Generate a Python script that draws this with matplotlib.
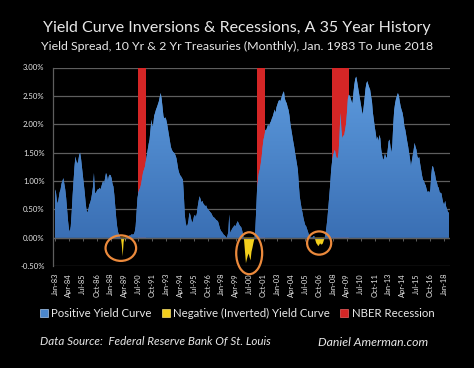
import numpy as np
import matplotlib
matplotlib.use("Agg")
import matplotlib.pyplot as plt
from matplotlib.patches import Ellipse, Patch
from matplotlib.colors import LinearSegmentedColormap
from matplotlib.path import Path

# ---------------- data ----------------
# 10Y - 2Y Treasury spread (%), monthly, Jan 1983 .. Jun 2018
spread = [
    0.85, 0.80, 0.65, 0.60, 0.70, 0.80, 0.85, 0.95, 1.00, 1.05, 0.95, 0.85,   # 1983
    0.70, 0.50, 0.30, 0.15, 0.10, 0.20, 0.45, 0.75, 1.00, 1.25, 1.43, 1.35,   # 1984
    1.30, 1.35, 1.45, 1.50, 1.40, 1.25, 1.10, 0.95, 0.80, 0.62, 0.48, 0.44,   # 1985
    0.50, 0.58, 0.62, 0.68, 0.78, 0.90, 1.14, 0.80, 0.78, 0.82, 0.85, 0.85,   # 1986
    0.88, 0.85, 0.90, 0.96, 1.00, 0.95, 1.05, 1.14, 1.10, 1.00, 1.08, 1.11,   # 1987
    1.10, 1.05, 0.95, 0.90, 0.75, 0.55, 0.35, 0.20, 0.10, 0.05, 0.02, 0.00,   # 1988
    -0.12, -0.33, -0.08, 0.01, -0.06, 0.02, 0.03, 0.02, 0.04, 0.03, 0.05, 0.06,  # 1989
    0.05, 0.06, 0.10, 0.20, 0.45, 0.70, 0.80, 0.85, 0.88, 0.95, 1.05, 1.15,   # 1990
    1.20, 1.25, 1.35, 1.45, 1.55, 1.65, 1.73, 1.90, 2.08, 1.96, 2.00, 2.15,   # 1991
    2.20, 2.26, 2.30, 2.35, 2.40, 2.48, 2.55, 2.45, 2.30, 2.14, 2.10, 2.12,   # 1992
    2.08, 2.00, 1.90, 1.80, 1.70, 1.60, 1.55, 1.52, 1.50, 1.49, 1.45, 1.40,   # 1993
    1.30, 1.20, 1.14, 1.10, 1.08, 1.05, 1.02, 0.75, 0.40, 0.26, 0.20, 0.22,   # 1994
    0.30, 0.44, 0.40, 0.32, 0.26, 0.30, 0.38, 0.40, 0.36, 0.42, 0.55, 0.65,   # 1995
    0.73, 0.68, 0.62, 0.65, 0.60, 0.58, 0.55, 0.57, 0.52, 0.50, 0.48, 0.46,   # 1996
    0.44, 0.42, 0.38, 0.36, 0.35, 0.33, 0.31, 0.30, 0.28, 0.22, 0.16, 0.12,   # 1997
    0.10, 0.08, 0.05, 0.04, 0.02, 0.00, 0.03, 0.10, 0.41, 0.08, 0.12, 0.15,   # 1998
    0.18, 0.20, 0.22, 0.20, 0.25, 0.29, 0.26, 0.22, 0.20, 0.18, 0.12, 0.04,   # 1999
    -0.05, -0.25, -0.45, -0.38, -0.32, -0.28, -0.35, -0.40, -0.25, -0.18, -0.10, -0.03,  # 2000
    0.10, 0.45, 0.85, 1.02, 1.14, 1.20, 1.30, 1.43, 1.60, 1.73, 1.80, 1.90,   # 2001
    1.90, 1.95, 2.00, 1.95, 2.02, 2.05, 2.10, 2.14, 2.20, 2.26, 2.20, 2.30,   # 2002
    2.35, 2.40, 2.43, 2.40, 2.45, 2.50, 2.55, 2.58, 2.45, 2.40, 2.37, 2.30,   # 2003
    2.25, 2.15, 2.00, 1.90, 1.80, 1.70, 1.61, 1.50, 1.40, 1.30, 1.20, 0.95,   # 2004
    0.73, 0.62, 0.52, 0.44, 0.35, 0.28, 0.22, 0.20, 0.15, 0.10, 0.05, 0.00,   # 2005
    0.02, 0.00, 0.01, 0.03, 0.02, -0.05, -0.10, -0.12, -0.15, -0.13, -0.10, -0.12,  # 2006
    -0.12, -0.10, -0.05, 0.00, 0.08, 0.20, 0.35, 0.55, 0.75, 0.95, 1.20, 1.35,  # 2007
    1.45, 1.50, 1.55, 1.45, 1.40, 1.40, 1.50, 1.80, 2.20, 1.90, 1.75, 1.80,   # 2008
    1.80, 1.90, 2.00, 2.20, 2.45, 2.52, 2.50, 2.46, 2.40, 2.37, 2.55, 2.70,   # 2009
    2.80, 2.84, 2.75, 2.65, 2.55, 2.45, 2.35, 2.25, 2.17, 2.30, 2.45, 2.62,   # 2010
    2.72, 2.76, 2.70, 2.65, 2.61, 2.50, 2.40, 2.20, 2.08, 1.95, 1.85, 1.73,   # 2011
    1.78, 1.70, 1.81, 1.75, 1.55, 1.45, 1.37, 1.40, 1.48, 1.43, 1.40, 1.55,   # 2012
    1.70, 1.73, 1.60, 1.50, 1.65, 2.00, 2.25, 2.37, 2.45, 2.50, 2.55, 2.50,   # 2013
    2.40, 2.31, 2.25, 2.20, 2.10, 1.96, 1.90, 1.80, 1.70, 1.61, 1.50, 1.40,   # 2014
    1.26, 1.35, 1.45, 1.55, 1.67, 1.60, 1.55, 1.43, 1.40, 1.42, 1.30, 1.20,   # 2015
    1.10, 1.02, 1.00, 0.95, 0.92, 0.85, 0.80, 0.82, 0.79, 0.85, 1.10, 1.26,   # 2016
    1.25, 1.18, 1.12, 1.02, 0.98, 0.90, 0.88, 0.80, 0.79, 0.78, 0.68, 0.61,   # 2017
    0.58, 0.65, 0.55, 0.50, 0.45, 0.44,                                       # 2018
]
start_year, start_month = 1983, 1

# NBER recessions (first month, last month)
recession_start = ["1990-07", "2001-03", "2007-12"]
recession_end = ["1991-03", "2001-11", "2009-06"]

tick_labels = ["Jan-83", "Apr-84", "Jul-85", "Oct-86", "Jan-88", "Apr-89", "Jul-90",
               "Oct-91", "Jan-93", "Apr-94", "Jul-95", "Oct-96", "Jan-98", "Apr-99",
               "Jul-00", "Oct-01", "Jan-03", "Apr-04", "Jul-05", "Oct-06", "Jan-08",
               "Apr-09", "Jul-10", "Oct-11", "Jan-13", "Apr-14", "Jul-15", "Oct-16",
               "Jan-18"]
tick_step = 15  # months between labels

y_ticks = [-0.5, 0.0, 0.5, 1.0, 1.5, 2.0, 2.5, 3.0]

title = "Yield Curve Inversions & Recessions, A 35 Year History"
subtitle = "Yield Spread, 10 Yr & 2 Yr Treasuries (Monthly), Jan. 1983 To June 2018"
legend_labels = ["Positive Yield Curve", "Negative (Inverted) Yield Curve", "NBER Recession"]
source_text = "Data Source:  Federal Reserve Bank Of St. Louis"
credit_text = "Daniel Amerman.com"

# ---------------- styling ----------------
BG = "#000000"
BLUE = "#4a86cc"
BLUE_TOP = "#5f9de0"
BLUE_BOT = "#3a6fb4"
YELLOW = "#f3cf1c"
RED = "#d42626"
ORANGE = "#ec8a3c"
GRID = "#5e5e5e"
TXT = "#e8e8e8"
FONT = ["Lato", "DejaVu Sans"]

plt.rcParams["font.family"] = FONT

def month_index(s):
    y, m = s.split("-")
    return (int(y) - start_year) * 12 + (int(m) - start_month)

vals = np.array(spread)
x = np.arange(len(vals))

fig = plt.figure(figsize=(4.74, 3.68), dpi=100, facecolor=BG)
ax = fig.add_axes([53 / 474, 1 - 266 / 368, (450 - 53) / 474, (266 - 67.5) / 368])
ax.set_facecolor(BG)
ax.set_xlim(-2.2, 426.2)
ax.set_ylim(-0.5, 3.0)

# gridlines
ax.set_yticks(y_ticks)
ax.set_yticklabels([f"{v:.2f}%" for v in y_ticks], color=TXT, fontsize=5.6)
ax.yaxis.grid(True, color=GRID, lw=0.9)
ax.set_axisbelow(True)
ax.tick_params(axis="y", length=0, pad=6)
for s in ["top", "right", "bottom"]:
    ax.spines[s].set_visible(False)
ax.spines["left"].set_color(GRID)
ax.spines["left"].set_linewidth(0.9)

# recession bars
for s, e in zip(recession_start, recession_end):
    ax.axvspan(month_index(s) - 0.5, month_index(e) + 0.5, ymin=0.5 / 3.5, ymax=1.0,
               color=RED, lw=0, zorder=2)

# positive area with gradient
pos = ax.fill_between(x, 0, vals, where=vals >= 0, interpolate=True,
                      color=BLUE, lw=0, zorder=3)
grad = np.linspace(0, 1, 256).reshape(-1, 1)
cmap_b = LinearSegmentedColormap.from_list("b", [BLUE_BOT, BLUE_TOP])
im = ax.imshow(grad, extent=[x[0], x[-1], 0, 3.0], origin="lower", aspect="auto",
               cmap=cmap_b, zorder=3.5, interpolation="bilinear")
paths = pos.get_paths()
verts = np.concatenate([p.vertices for p in paths])
codes = np.concatenate([p.codes if p.codes is not None else
                        np.r_[Path.MOVETO, [Path.LINETO] * (len(p.vertices) - 1)]
                        for p in paths])
clip = Path(verts, codes)
im.set_clip_path(clip, transform=ax.transData)

# negative area
neg = ax.fill_between(x, 0, vals, where=vals <= 0, interpolate=True,
                      color=YELLOW, lw=0, zorder=3)

# x-axis line at zero with tick marks
ax.axhline(0, color=GRID, lw=0.9, zorder=4)
ticks = np.arange(0, len(vals), tick_step)[:len(tick_labels)]
sec = ax.secondary_xaxis(0.5 / 3.5)
sec.set_xticks(ticks)
sec.set_xticklabels([])
sec.tick_params(length=2.2, color=GRID, width=0.7, direction="out")
sec.spines["bottom"].set_visible(False)

ax.set_xticks(ticks)
ax.set_xticklabels(tick_labels, rotation=90, fontsize=5.4, color=TXT)
ax.tick_params(axis="x", length=0, pad=5)

# circles around inversions
neg_mask = vals < 0
episodes = []
i = 0
while i < len(vals):
    if neg_mask[i]:
        j = i
        while j + 1 < len(vals) and (neg_mask[j + 1] or (j + 2 < len(vals) and neg_mask[j + 2])):
            j += 1
        episodes.append((i, j))
        i = j + 1
    else:
        i += 1
circle_sizes = [(33, 0.45), (28, 0.74), (26, 0.41)]  # width (months), height (%)
circle_shift = [(-3.0, 0.0), (0.0, -0.03), (-0.5, 0.0)]
for (a, b), (w, h), (dx, dy) in zip(episodes, circle_sizes, circle_shift):
    seg = vals[a:b + 1]
    cx = (a + b) / 2 + dx
    cy = seg.min() / 2 + dy - 0.02
    ax.add_patch(Ellipse((cx, cy), w, h, fill=False, ec=ORANGE, lw=1.6, zorder=6,
                         clip_on=False))

# titles
fig.text(0.5, 1 - 28 / 368, title, ha="center", va="center", color=TXT, fontsize=11.5)
fig.text(0.5, 1 - 46.5 / 368, subtitle, ha="center", va="center", color=TXT, fontsize=8.9)

# legend
handles = [Patch(facecolor=BLUE, edgecolor="#a8c8ee", lw=0.5),
           Patch(facecolor=YELLOW, edgecolor="#f8e070", lw=0.5),
           Patch(facecolor=RED, edgecolor="#f06060", lw=0.5)]
leg = fig.legend(handles, legend_labels, loc="center", bbox_to_anchor=(0.5, 1 - 313 / 368),
                 ncol=3, frameon=False, fontsize=8.2, labelcolor=TXT,
                 handlelength=0.7, handleheight=0.7, handletextpad=0.3, columnspacing=0.9)

fig.text(40 / 474, 1 - 342 / 368, source_text, ha="left", va="center", color=TXT,
         fontsize=8.4, style="italic")
fig.text(428 / 474, 1 - 342 / 368, credit_text, ha="right", va="center", color=TXT,
         fontsize=8.8, style="italic")

fig.savefig("out.png", dpi=100, facecolor=BG)
